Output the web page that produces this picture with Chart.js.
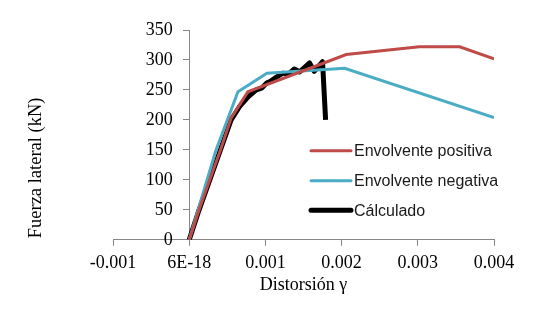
<!DOCTYPE html>
<html>
<head>
<meta charset="utf-8">
<script src="https://cdn.jsdelivr.net/npm/chart.js@4.4.0/dist/chart.umd.min.js"></script>
<style>
  html, body { margin: 0; padding: 0; background: #ffffff; }
  #wrap { width: 533px; height: 313px; }
</style>
</head>
<body>
<div id="wrap"><canvas id="c" width="533" height="313"></canvas></div>
<script>
// ---- data ----
const xTickLabels = ['-0.001', '6E-18', '0.001', '0.002', '0.003', '0.004'];

const positivaX = [0, 0.00013, 0.00027, 0.00041, 0.00055, 0.00077, 0.00206, 0.00302, 0.00355, 0.004];
const positivaY = [0, 50, 100, 150, 203, 247, 309, 322, 322, 302];

const negativaX = [0, 0.00035, 0.00064, 0.00102, 0.00204, 0.004];
const negativaY = [0, 149, 247, 278, 286, 204];

const calculadoX = [0, 0.00013, 0.00027, 0.00041, 0.00055, 0.00066, 0.00077, 0.00088, 0.00095, 0.00102, 0.00106, 0.00114, 0.00123, 0.00130, 0.00138, 0.00145, 0.00158, 0.00164, 0.00175, 0.00179];
const calculadoY = [0, 50, 100, 150, 200, 222, 238, 250, 253, 262, 264, 271, 278, 276, 285, 280, 295, 281, 297, 200];

const seriesNames = ['Envolvente positiva', 'Envolvente negativa', 'Cálculado'];
const seriesColors = ['#BE4B48', '#4BACC6', '#000000'];

function toPoints(xs, ys) { return xs.map((x, i) => ({ x: x, y: ys[i] })); }

const axisColor = '#868686';
const serif = "'Liberation Serif', 'Times New Roman', serif";

// y-axis title + in-plot legend
const extras = {
  id: 'extras',
  afterDraw(chart) {
    const ctx = chart.ctx;
    const ca = chart.chartArea;
    ctx.save();
    ctx.translate(36, (ca.top + ca.bottom) / 2 + 33);
    ctx.rotate(-Math.PI / 2);
    ctx.font = "18.5px " + serif;
    ctx.fillStyle = '#000';
    ctx.textAlign = 'center';
    ctx.textBaseline = 'middle';
    ctx.fillText('Fuerza lateral (kN)', 0, 0);
    ctx.restore();

    ctx.save();
    ctx.font = "16px 'Liberation Sans', Arial, sans-serif";
    ctx.textBaseline = 'middle';
    ctx.textAlign = 'left';
    const rows = [150.7, 180.7, 210.2];
    chart.data.datasets.forEach((ds, i) => {
      const y = rows[i];
      ctx.strokeStyle = ds.borderColor;
      ctx.lineWidth = ds.borderWidth;
      ctx.lineCap = 'round';
      ctx.beginPath();
      ctx.moveTo(311, y);
      ctx.lineTo(351, y);
      ctx.stroke();
      ctx.fillStyle = '#1a1a1a';
      ctx.fillText(ds.label, 354, y + 1);
    });
    ctx.restore();
  }
};

const yTickFont = { family: serif, size: 18 };

new Chart(document.getElementById('c'), {
  type: 'line',
  data: {
    datasets: [
      { label: seriesNames[0], data: toPoints(positivaX, positivaY), borderColor: seriesColors[0], backgroundColor: seriesColors[0], borderWidth: 3, pointRadius: 0, tension: 0, fill: false },
      { label: seriesNames[1], data: toPoints(negativaX, negativaY), borderColor: seriesColors[1], backgroundColor: seriesColors[1], borderWidth: 3, pointRadius: 0, tension: 0, fill: false },
      { label: seriesNames[2], data: toPoints(calculadoX, calculadoY), borderColor: seriesColors[2], backgroundColor: seriesColors[2], borderWidth: 5, pointRadius: 0, tension: 0, fill: false, borderJoinStyle: 'round', borderCapStyle: 'butt' }
    ]
  },
  options: {
    responsive: false,
    animation: false,
    devicePixelRatio: 1,
    layout: { padding: { left: 113, right: 39, top: 30, bottom: 12.5 } },
    plugins: { legend: { display: false }, tooltip: { enabled: false } },
    scales: {
      x: {
        type: 'linear',
        position: 'bottom',
        min: -0.001,
        max: 0.004,
        ticks: {
          stepSize: 0.001,
          autoSkip: false,
          maxRotation: 0,
          padding: 7,
          color: '#000',
          font: { family: serif, size: 18 },
          callback: (v, i) => xTickLabels[i]
        },
        grid: { drawOnChartArea: false, drawTicks: true, tickLength: 6, color: axisColor, lineWidth: 1 },
        border: { display: true, color: axisColor, width: 1 },
        title: { display: true, text: 'Distorsión γ', color: '#000', font: { family: serif, size: 18 }, padding: { top: -6.5, bottom: 4 } }
      },
      // tick labels, right-aligned a little left of the axis line
      y: {
        type: 'linear',
        position: { x: -0.000215 },
        min: 0,
        max: 350,
        ticks: { stepSize: 50, color: '#000', font: yTickFont },
        grid: { display: false },
        border: { display: false }
      },
      // axis line with tick marks at x = 0
      yLine: {
        type: 'linear',
        position: { x: 0 },
        min: 0,
        max: 350,
        ticks: { stepSize: 50, display: false },
        grid: { drawOnChartArea: false, drawTicks: true, tickLength: 6, color: axisColor, lineWidth: 1 },
        border: { display: true, color: axisColor, width: 1 }
      }
    }
  },
  plugins: [extras]
});
</script>
</body>
</html>
